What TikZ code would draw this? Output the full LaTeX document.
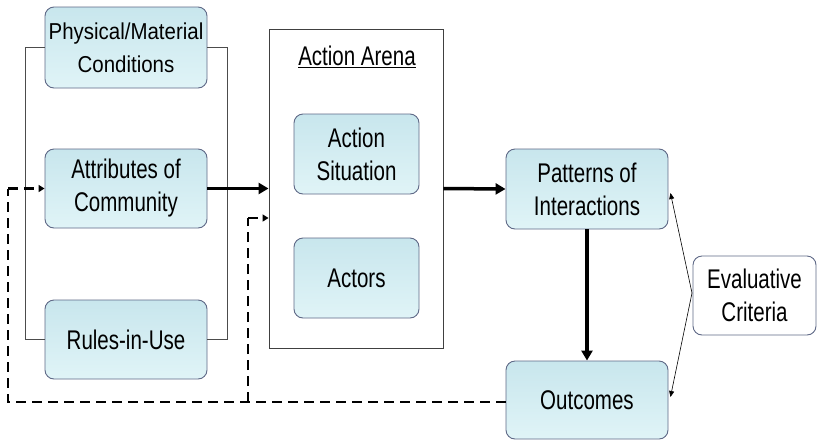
\documentclass[tikz,border=0pt]{standalone}
\usepackage{fontspec}
\setmainfont{Liberation Sans}[FakeStretch=0.76]
\newfontfamily\physfont{Liberation Sans}[FakeStretch=0.89]
\usetikzlibrary{arrows.meta,calc}
\definecolor{boxtop}{RGB}{200,230,237}
\definecolor{boxbot}{RGB}{224,244,247}
\definecolor{boxline}{RGB}{95,105,135}
\tikzset{
  bluebox/.style={rectangle,rounded corners=9pt,draw=boxline,line width=0.9pt,
    top color=boxtop,bottom color=boxbot,align=center,inner sep=0pt,
    font=\fontsize{27}{33}\selectfont},
  whitebox/.style={rectangle,rounded corners=9pt,draw=boxline,line width=0.9pt,
    fill=white,align=center,inner sep=0pt,font=\fontsize{27}{33}\selectfont},
  arenabox/.style={rectangle,draw=black!75,line width=0.9pt,inner sep=0pt},
  thickarrow/.style={line width=3.5pt,-{Triangle[length=10pt,width=11pt]}},
  thinarrow/.style={line width=0.6pt,-{Triangle[length=6pt,width=5pt]}},
  fbline/.style={line width=2.8pt,dash pattern=on 10pt off 6pt},
  fbarrow/.style={fbline,-{Triangle[length=6pt,width=7pt]}},
  bracket/.style={line width=0.9pt,draw=black!70}
}
\begin{document}
\begin{tikzpicture}[x=1pt,y=-1pt]
\useasboundingbox[fill=white] (0,0) rectangle (817,440);
% left column
\node[bluebox,minimum width=162pt,minimum height=81pt,font=\physfont\fontsize{23}{33}\selectfont] (phys) at (126,47.5) {Physical/Material\\Conditions};
\node[bluebox,minimum width=162pt,minimum height=79pt] (attr) at (126,188.5) {Attributes of\\Community};
\node[bluebox,minimum width=162pt,minimum height=79pt] (rules) at (126,339.5) {Rules-in-Use};
% action arena
\node[arenabox,minimum width=174pt,minimum height=319pt] (arena) at (356,188.5) {};
\node[font=\fontsize{27}{33}\selectfont,inner sep=0pt] (title) at (357,57) {\underline{Action Arena}};
\node[bluebox,minimum width=125pt,minimum height=80pt] (sit) at (356.5,154) {Action\\Situation};
\node[bluebox,minimum width=125pt,minimum height=80pt] (actors) at (356.5,278) {Actors};
% right side
\node[bluebox,minimum width=162pt,minimum height=80pt] (patt) at (587,189) {Patterns of\\Interactions};
\node[bluebox,minimum width=162pt,minimum height=78pt] (outc) at (587,400) {Outcomes};
\node[whitebox,minimum width=123pt,minimum height=79pt] (eval) at (754.5,295.5) {Evaluative\\Criteria};
% bracket
\draw[bracket] (phys.west) -- ++(-19,0) |- (rules.west);
\draw[bracket] (phys.east) -- ++(20,0) |- (rules.east);
% main arrows
\draw[thickarrow] (attr.east) -- (arena.west);
\draw[thickarrow] (arena.east) -- (patt.west);
\draw[thickarrow] (patt.south) -- (outc.north);
% evaluative criteria arrows
\coordinate (ev) at (692,293);
\draw[thinarrow] (ev) -- ($(patt.east)+(2,4)$);
\draw[thinarrow] (ev) -- ($(outc.east)+(2,-3)$);
% feedback
\coordinate (fbl) at (8,402);
\coordinate (fbj) at (248,402);
\coordinate (a2) at ($(arena.west)+(0,29.5)$);
\draw[fbline] ($(outc.west)+(0,2)$) -- (fbl) -- (8,188.5);
\draw[fbarrow] (8,188.5) -- (attr.west);
\draw[fbline] (fbj) -- (248,218);
\draw[fbarrow] (248,218) -- (a2);
\end{tikzpicture}
\end{document}
